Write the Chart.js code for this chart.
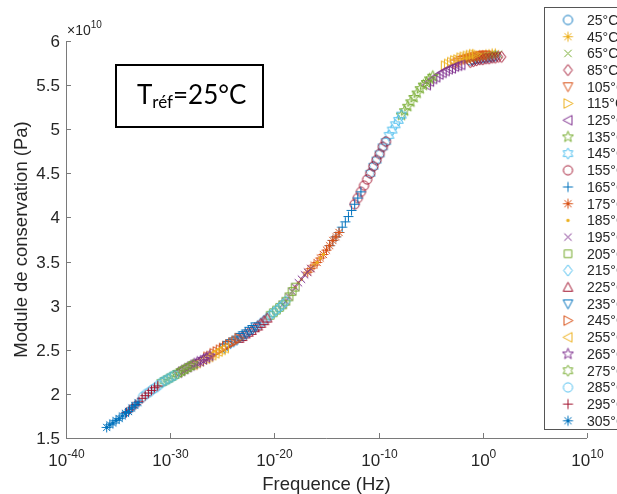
<!DOCTYPE html>
<html>
<head>
<meta charset="utf-8">
<script src="https://cdn.jsdelivr.net/npm/chart.js@4.4.0/dist/chart.umd.min.js"></script>
<style>
  html, body { margin: 0; padding: 0; background: #fff; }
</style>
</head>
<body>
<canvas id="chart" width="617" height="494"></canvas>
<script>
// Master curve of the storage modulus, shifted to T_ref = 25 °C
// frequencies stored as log10(Hz), modulus in units of 1e10 Pa

const TEMPS = [25, 45, 65, 85, 105, 115, 125, 135, 145, 155, 165, 175, 185,
               195, 205, 215, 225, 235, 245, 255, 265, 275, 285, 295, 305];

const BLUE = '#0072BD', ORANGE = '#D95319', YELLOW = '#EDB120', PURPLE = '#7E2F8E',
      GREEN = '#77AC30', LIGHTBLUE = '#4DBEEE', DARKRED = '#A2142F';

const COLORS = [BLUE, YELLOW, GREEN, DARKRED, ORANGE, YELLOW, PURPLE, GREEN, LIGHTBLUE,
                DARKRED, BLUE, ORANGE, YELLOW, PURPLE, GREEN, LIGHTBLUE, DARKRED, BLUE,
                ORANGE, YELLOW, PURPLE, GREEN, LIGHTBLUE, DARKRED, BLUE];

const MARKERS = ['o', '*', 'x', 'd', 'v', '>', '<', 'p', 'h', 'o', '+', '*', '.',
                 'x', 's', 'd', '^', 'v', '>', '<', 'p', 'h', 'o', '+', '*'];

const LOGF_25  = [-1.2, -0.9, -0.6, -0.3, 0.0, 0.3, 0.6, 0.9, 1.2];
const E_25     = [5.78, 5.79, 5.80, 5.80, 5.81, 5.81, 5.82, 5.82, 5.83];
const LOGF_45  = [-1.8, -1.5, -1.2, -0.9, -0.6, -0.3, 0.0, 0.3, 0.6, 0.9, 1.2];
const E_45     = [5.80, 5.81, 5.82, 5.82, 5.83, 5.84, 5.84, 5.85, 5.85, 5.86, 5.86];
const LOGF_65  = [-1.5, -1.2, -0.9, -0.6, -0.3, 0.0, 0.3, 0.6, 0.9, 1.2, 1.5];
const E_65     = [5.79, 5.80, 5.80, 5.81, 5.82, 5.82, 5.83, 5.83, 5.84, 5.84, 5.85];
const LOGF_85  = [-1.2, -0.9, -0.6, -0.3, 0.0, 0.3, 0.6, 0.9, 1.2, 1.5, 1.8];
const E_85     = [5.76, 5.77, 5.78, 5.79, 5.79, 5.80, 5.80, 5.81, 5.81, 5.82, 5.82];
const LOGF_105 = [-2.7, -2.4, -2.1, -1.8, -1.5, -1.2, -0.9, -0.6, -0.3, 0.0, 0.3];
const E_105    = [5.74, 5.76, 5.78, 5.79, 5.80, 5.81, 5.82, 5.83, 5.83, 5.84, 5.84];
const LOGF_115 = [-3.6, -3.3, -3.0, -2.7, -2.4, -2.1, -1.8, -1.5, -1.2, -0.9, -0.6];
const E_115    = [5.72, 5.74, 5.76, 5.78, 5.79, 5.81, 5.82, 5.83, 5.84, 5.85, 5.85];
const LOGF_125 = [-5.4, -5.1, -4.8, -4.5, -4.2, -3.9, -3.6, -3.3, -3.0, -2.7, -2.4, -2.1];
const E_125    = [5.50, 5.54, 5.57, 5.59, 5.62, 5.64, 5.66, 5.68, 5.69, 5.71, 5.72, 5.73];
const LOGF_135 = [-7.8, -7.5, -7.2, -6.9, -6.6, -6.3, -6.0, -5.7, -5.4, -5.1, -4.8];
const E_135    = [5.16, 5.21, 5.26, 5.31, 5.36, 5.41, 5.46, 5.50, 5.53, 5.57, 5.60];
const LOGF_145 = [-10.8, -10.5, -10.2, -9.9, -9.6, -9.3, -9.0, -8.7, -8.4, -8.1, -7.8];
const E_145    = [4.50, 4.58, 4.65, 4.72, 4.80, 4.86, 4.93, 4.99, 5.05, 5.10, 5.16];
const LOGF_155 = [-12.3, -12.0, -11.7, -11.4, -11.1, -10.8, -10.5, -10.2, -9.9, -9.6, -9.3];
const E_155    = [4.15, 4.22, 4.29, 4.36, 4.43, 4.50, 4.58, 4.65, 4.72, 4.80, 4.86];
const LOGF_165 = [-14.7, -14.4, -14.1, -13.8, -13.5, -13.2, -12.9, -12.6, -12.3, -12.0, -11.7];
const E_165    = [3.68, 3.74, 3.78, 3.83, 3.89, 3.95, 4.01, 4.08, 4.15, 4.22, 4.29];
const LOGF_175 = [-16.8, -16.5, -16.2, -15.9, -15.6, -15.3, -15.0, -14.7, -14.4, -14.1, -13.8];
const E_175    = [3.38, 3.42, 3.46, 3.49, 3.54, 3.58, 3.63, 3.68, 3.74, 3.78, 3.83];
const LOGF_185 = [-18.0, -17.7, -17.4, -17.1, -16.8, -16.5, -16.2, -15.9, -15.6, -15.3];
const E_185    = [3.21, 3.26, 3.30, 3.35, 3.38, 3.42, 3.46, 3.49, 3.54, 3.58];
const LOGF_195 = [-19.2, -18.9, -18.6, -18.3, -18.0, -17.7, -17.4, -17.1, -16.8, -16.5];
const E_195    = [3.01, 3.05, 3.10, 3.16, 3.21, 3.26, 3.30, 3.35, 3.38, 3.42];
const LOGF_205 = [-20.4, -20.1, -19.8, -19.5, -19.2, -18.9, -18.6, -18.3, -18.0];
const E_205    = [2.89, 2.92, 2.95, 2.98, 3.01, 3.05, 3.10, 3.16, 3.21];
const LOGF_215 = [-21.6, -21.3, -21.0, -20.7, -20.4, -20.1, -19.8, -19.5, -19.2, -18.9];
const E_215    = [2.77, 2.80, 2.83, 2.86, 2.89, 2.92, 2.95, 2.98, 3.01, 3.05];
const LOGF_225 = [-23.4, -23.1, -22.8, -22.5, -22.2, -21.9, -21.6, -21.3, -21.0, -20.7];
const E_225    = [2.63, 2.65, 2.68, 2.70, 2.72, 2.75, 2.77, 2.80, 2.83, 2.86];
const LOGF_235 = [-24.8, -24.5, -24.2, -23.9, -23.6, -23.3, -23.0, -22.7, -22.4, -22.1, -21.8];
const E_235    = [2.52, 2.55, 2.57, 2.59, 2.61, 2.64, 2.66, 2.68, 2.71, 2.73, 2.76];
const LOGF_245 = [-26.4, -26.1, -25.8, -25.5, -25.2, -24.9, -24.6, -24.3, -24.0, -23.7, -23.4];
const E_245    = [2.42, 2.43, 2.46, 2.48, 2.50, 2.52, 2.54, 2.56, 2.58, 2.60, 2.63];
const LOGF_255 = [-27.8, -27.5, -27.2, -26.9, -26.6, -26.3, -26.0, -25.7, -25.4, -25.1, -24.8];
const E_255    = [2.33, 2.35, 2.37, 2.39, 2.40, 2.42, 2.44, 2.46, 2.48, 2.50, 2.52];
const LOGF_265 = [-29.2, -28.9, -28.6, -28.3, -28.0, -27.7, -27.4, -27.1, -26.8, -26.5, -26.2];
const E_265    = [2.24, 2.26, 2.28, 2.30, 2.32, 2.34, 2.36, 2.37, 2.39, 2.41, 2.43];
const LOGF_275 = [-30.8, -30.5, -30.2, -29.9, -29.6, -29.3, -29.0, -28.7, -28.4, -28.1, -27.8];
const E_275    = [2.13, 2.15, 2.17, 2.19, 2.21, 2.23, 2.25, 2.27, 2.29, 2.31, 2.33];
const LOGF_285 = [-32.6, -32.3, -32.0, -31.7, -31.4, -31.1, -30.8, -30.5, -30.2, -29.9, -29.6];
const E_285    = [1.97, 2.00, 2.02, 2.05, 2.07, 2.10, 2.13, 2.15, 2.17, 2.19, 2.21];
const LOGF_295 = [-34.2, -33.9, -33.6, -33.3, -33.0, -32.7, -32.4, -32.1, -31.8, -31.5, -31.2];
const E_295    = [1.79, 1.82, 1.85, 1.88, 1.91, 1.95, 1.98, 2.01, 2.04, 2.07, 2.09];
const LOGF_305 = [-36.1, -35.8, -35.5, -35.2, -34.9, -34.6, -34.3, -34.0, -33.7, -33.4, -33.1];
const E_305    = [1.62, 1.65, 1.67, 1.70, 1.72, 1.75, 1.78, 1.80, 1.84, 1.87, 1.90];

const X_TICK_EXP = [-40, -30, -20, -10, 0, 10];
const Y_TICKS = [1.5, 2, 2.5, 3, 3.5, 4, 4.5, 5, 5.5, 6];

const X_LABEL = 'Frequence (Hz)';
const Y_LABEL = 'Module de conservation (Pa)';

const LOGF = [LOGF_25, LOGF_45, LOGF_65, LOGF_85, LOGF_105, LOGF_115, LOGF_125, LOGF_135,
              LOGF_145, LOGF_155, LOGF_165, LOGF_175, LOGF_185, LOGF_195, LOGF_205, LOGF_215,
              LOGF_225, LOGF_235, LOGF_245, LOGF_255, LOGF_265, LOGF_275, LOGF_285, LOGF_295, LOGF_305];
const MODS = [E_25, E_45, E_65, E_85, E_105, E_115, E_125, E_135, E_145, E_155, E_165, E_175,
              E_185, E_195, E_205, E_215, E_225, E_235, E_245, E_255, E_265, E_275, E_285, E_295, E_305];

const TEXT_COLOR = '#262626';
const AXIS_COLOR = '#7a7a7a';
const FONT = '"Liberation Sans", Arial, sans-serif';

// matlab-like marker glyphs, painted once per series on a small canvas
function starPath(g, c, n, R, r) {
  for (let k = 0; k < 2 * n; k++) {
    const a = -Math.PI / 2 + k * Math.PI / n;
    const rad = k % 2 === 0 ? R : r;
    const px = c + rad * Math.cos(a), py = c + rad * Math.sin(a);
    if (k === 0) g.moveTo(px, py); else g.lineTo(px, py);
  }
  g.closePath();
}

function polyPath(g, pts) {
  g.moveTo(pts[0][0], pts[0][1]);
  for (let k = 1; k < pts.length; k++) g.lineTo(pts[k][0], pts[k][1]);
  g.closePath();
}

function makeMarker(shape, color) {
  const S = 15, c = S / 2;
  const cv = document.createElement('canvas');
  cv.width = S; cv.height = S;
  const g = cv.getContext('2d');
  g.strokeStyle = color;
  g.fillStyle = color;
  g.lineWidth = 1;
  g.beginPath();
  switch (shape) {
    case 'o': g.arc(c, c, 4.6, 0, 2 * Math.PI); break;
    case '.': g.arc(c, c, 1.7, 0, 2 * Math.PI); g.fill(); return cv;
    case '+':
      g.moveTo(c - 5, c); g.lineTo(c + 5, c); g.moveTo(c, c - 5); g.lineTo(c, c + 5); break;
    case 'x':
      g.moveTo(c - 3.7, c - 3.7); g.lineTo(c + 3.7, c + 3.7);
      g.moveTo(c + 3.7, c - 3.7); g.lineTo(c - 3.7, c + 3.7); break;
    case '*':
      g.moveTo(c - 5, c); g.lineTo(c + 5, c); g.moveTo(c, c - 5); g.lineTo(c, c + 5);
      g.moveTo(c - 3.6, c - 3.6); g.lineTo(c + 3.6, c + 3.6);
      g.moveTo(c + 3.6, c - 3.6); g.lineTo(c - 3.6, c + 3.6); break;
    case 's': g.rect(c - 3.8, c - 3.8, 7.6, 7.6); break;
    case 'd': polyPath(g, [[c, c - 5.6], [c + 4.3, c], [c, c + 5.6], [c - 4.3, c]]); break;
    case '^': polyPath(g, [[c, c - 5], [c + 4.8, c + 4], [c - 4.8, c + 4]]); break;
    case 'v': polyPath(g, [[c, c + 5], [c + 4.8, c - 4], [c - 4.8, c - 4]]); break;
    case '>': polyPath(g, [[c + 5, c], [c - 4, c - 4.8], [c - 4, c + 4.8]]); break;
    case '<': polyPath(g, [[c - 5, c], [c + 4, c - 4.8], [c + 4, c + 4.8]]); break;
    case 'p': starPath(g, c, 5, 5.8, 2.4); break;
    case 'h': starPath(g, c, 6, 5.6, 3.2); break;
  }
  g.stroke();
  return cv;
}

const MARKER_IMGS = TEMPS.map((t, i) => makeMarker(MARKERS[i], COLORS[i]));

const datasets = TEMPS.map((t, i) => ({
  label: t + '°C',
  data: LOGF[i].map((lf, k) => ({ x: Math.pow(10, lf), y: MODS[i][k] })),
  pointStyle: MARKER_IMGS[i],
  pointRadius: 5,
  showLine: false,
  order: TEMPS.length - 1 - i   // later temperatures on top, like matlab
}));

function drawPow10(ctx, exp, cx, baseY) {
  const base = '10', sup = String(exp);
  ctx.font = '17px ' + FONT;
  const wb = ctx.measureText(base).width;
  ctx.font = '12px ' + FONT;
  const ws = ctx.measureText(sup).width;
  const x0 = cx - (wb + ws) / 2;
  ctx.textAlign = 'left';
  ctx.textBaseline = 'alphabetic';
  ctx.font = '17px ' + FONT;
  ctx.fillText(base, x0, baseY);
  ctx.font = '12px ' + FONT;
  ctx.fillText(sup, x0 + wb, baseY - 8);
}

const matlabAxes = {
  id: 'matlabAxes',
  afterDraw(chart) {
    const ctx = chart.ctx;
    const xs = chart.scales.x, ys = chart.scales.y;
    const a = chart.chartArea;
    ctx.save();

    // axis lines (box off) and inward ticks
    ctx.strokeStyle = AXIS_COLOR;
    ctx.lineWidth = 1;
    ctx.beginPath();
    ctx.moveTo(a.left + 0.5, a.top);
    ctx.lineTo(a.left + 0.5, a.bottom + 0.5);
    ctx.lineTo(a.right, a.bottom + 0.5);
    ctx.stroke();

    ctx.fillStyle = TEXT_COLOR;
    Y_TICKS.forEach(v => {
      const py = Math.round(ys.getPixelForValue(v)) + 0.5;
      ctx.beginPath();
      ctx.moveTo(a.left, py); ctx.lineTo(a.left + 5, py);
      ctx.stroke();
      ctx.font = '17px ' + FONT;
      ctx.textAlign = 'right';
      ctx.textBaseline = 'middle';
      ctx.fillText(String(v), a.left - 6, py + 1);
    });

    X_TICK_EXP.forEach(e => {
      const px = Math.round(xs.getPixelForValue(Math.pow(10, e))) + 0.5;
      ctx.beginPath();
      ctx.moveTo(px, a.bottom); ctx.lineTo(px, a.bottom - 5);
      ctx.stroke();
      drawPow10(ctx, e, px, a.bottom + 28);
    });

    // exponent multiplier of the y axis
    ctx.textAlign = 'left';
    ctx.textBaseline = 'alphabetic';
    ctx.font = '14px ' + FONT;
    ctx.fillText('\u00d710', a.left + 1, a.top - 6);
    const wm = ctx.measureText('\u00d710').width;
    ctx.font = '10px ' + FONT;
    ctx.fillText('10', a.left + 1 + wm, a.top - 13);

    // axis titles
    ctx.font = '18.5px ' + FONT;
    ctx.textAlign = 'center';
    ctx.textBaseline = 'alphabetic';
    ctx.fillText(X_LABEL, (a.left + a.right) / 2, 490);
    ctx.save();
    ctx.translate(27, (a.top + a.bottom) / 2);
    ctx.rotate(-Math.PI / 2);
    ctx.fillText(Y_LABEL, 0, 0);
    ctx.restore();

    // reference temperature box
    ctx.fillStyle = '#fff';
    ctx.fillRect(116, 65, 147, 62);
    ctx.strokeStyle = '#000';
    ctx.lineWidth = 2;
    ctx.strokeRect(116, 65, 147, 62);
    ctx.fillStyle = '#000';
    ctx.textAlign = 'left';
    ctx.font = '26px Lato, "Open Sans", sans-serif';
    let tx = 137;
    ctx.fillText('T', tx, 104);
    tx += ctx.measureText('T').width;
    ctx.font = '17px Lato, "Open Sans", sans-serif';
    ctx.fillText('réf', tx, 108);
    tx += ctx.measureText('réf').width;
    ctx.font = '26px Lato, "Open Sans", sans-serif';
    ctx.fillText('=25°C', tx, 104);

    // legend (runs off the right edge of the figure)
    ctx.fillStyle = '#fff';
    ctx.fillRect(544, 7, 100, 423);
    ctx.strokeStyle = '#555';
    ctx.lineWidth = 1;
    ctx.strokeRect(544.5, 7.5, 100, 422);
    ctx.font = '14px ' + FONT;
    ctx.textBaseline = 'middle';
    ctx.fillStyle = TEXT_COLOR;
    TEMPS.forEach((t, i) => {
      const ly = 20 + i * 16.7;
      const img = MARKER_IMGS[i];
      ctx.drawImage(img, 568 - img.width / 2, ly - img.height / 2);
      ctx.fillText(t + '°C', 587, ly + 1);
    });

    ctx.restore();
  }
};

new Chart(document.getElementById('chart'), {
  type: 'scatter',
  data: { datasets },
  options: {
    responsive: false,
    animation: false,
    events: [],
    layout: { padding: { top: 41, right: 30, left: 0, bottom: 0 } },
    plugins: {
      legend: { display: false },
      tooltip: { enabled: false }
    },
    scales: {
      x: {
        type: 'logarithmic',
        min: 1e-40,
        max: 1e10,
        grid: { display: false },
        border: { display: false },
        ticks: { display: false },
        afterBuildTicks: s => { s.ticks = X_TICK_EXP.map(e => ({ value: Math.pow(10, e) })); },
        afterFit: s => { s.height = 56; }
      },
      y: {
        type: 'linear',
        min: 1.5,
        max: 6,
        grid: { display: false },
        border: { display: false },
        ticks: { display: false },
        afterBuildTicks: s => { s.ticks = Y_TICKS.map(v => ({ value: v })); },
        afterFit: s => { s.width = 66; }
      }
    }
  },
  plugins: [matlabAxes]
});
</script>
</body>
</html>
